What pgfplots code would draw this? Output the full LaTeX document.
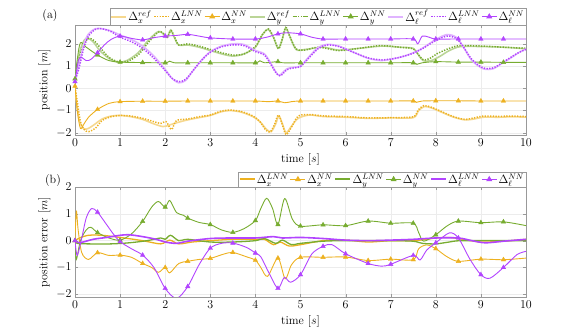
\documentclass[border=0pt]{standalone}
\usepackage{pgfplots}
\pgfplotsset{compat=1.18}
\definecolor{cx}{RGB}{237,177,32}
\definecolor{cy}{RGB}{119,172,48}
\definecolor{cl}{RGB}{178,68,255}
\pgfplotsset{
  myax/.style={scale only axis, width=451pt, height=110pt, xmin=0, xmax=10,
    xtick={0,...,10}, ytick={-2,...,2}, grid=major,
    grid style={gray!15, line width=0.4pt},
    axis line style={gray!80}, major tick style={gray!80}, major tick length=3pt,
    tick label style={font=\fontsize{12}{14}\selectfont}, label style={font=\fontsize{12}{14}\selectfont},
    xlabel={time $[s]$}, xlabel style={yshift=0pt}, ylabel style={yshift=-1pt},
    legend style={draw=gray!80, font=\fontsize{11.5}{13}\selectfont, legend columns=-1, at={(1,1)}, anchor=south east,
      /tikz/every even column/.append style={column sep=0.5pt}, inner sep=0.5pt,
      nodes={inner sep=1.3pt}},
    legend image code/.code={\draw[mark repeat=2,mark phase=2,#1] plot coordinates {(0pt,0pt) (7.5pt,0pt) (15pt,0pt)};},
    legend cell align=left},
  refst/.style={line width=1.6pt, smooth, tension=0.5},
  lnnst/.style={line width=1.5pt, dash pattern=on 1.3pt off 1.4pt, smooth, tension=0.5},
  nnst/.style={line width=0.9pt, smooth, tension=0.5},
  mkst/.style={only marks, mark=triangle*, mark size=2.6pt},
  errst/.style={line width=1.3pt, smooth, tension=0.5},
  solidleg/.style={legend image code/.code={\draw[##1, line width=1.8pt, line cap=butt] (0pt,0pt) -- (15pt,0pt);}},
}
\begin{document}
\begin{tikzpicture}
\path[use as bounding box] (0pt,0pt) rectangle (581pt,332pt);
\node[font=\fontsize{12}{14}\selectfont] at (50pt,316pt) {(a)};
\node[font=\fontsize{12}{14}\selectfont] at (53pt,151pt) {(b)};
\begin{axis}[myax, at={(75pt,197pt)}, ymin=-2.1, ymax=2.85, ylabel={position $[m]$}]
% x
\addplot[refst, color=cx!50, solidleg] coordinates {(0,0) (0.05,-0.9) (0.1,-1.5) (0.2,-1.82) (0.3,-1.8) (0.45,-1.6) (0.6,-1.38) (0.8,-1.25) (1.0,-1.22) (1.25,-1.28) (1.5,-1.4) (1.75,-1.6) (1.95,-1.72) (2.1,-1.65) (2.25,-1.55) (2.5,-1.42) (2.75,-1.32) (3.0,-1.22) (3.25,-1.05) (3.45,-1.0) (3.7,-1.08) (3.95,-1.28) (4.1,-1.5) (4.25,-1.85) (4.35,-1.95) (4.45,-1.6) (4.52,-1.25) (4.6,-1.6) (4.68,-2.0) (4.8,-1.7) (4.95,-1.35) (5.2,-1.2) (5.5,-1.27) (6.0,-1.3) (6.5,-1.35) (7.0,-1.33) (7.5,-1.32) (7.62,-1.0) (7.75,-0.82) (7.9,-0.88) (8.1,-1.05) (8.4,-1.3) (8.65,-1.42) (8.85,-1.38) (9.05,-1.3) (9.4,-1.3) (9.7,-1.28) (10,-1.3)};
\addlegendentry{$\Delta_x^{ref}$}
\addplot[lnnst, color=cx] coordinates {(0,0.05) (0.05,-0.6) (0.12,-1.5) (0.2,-1.85) (0.3,-1.95) (0.45,-1.8) (0.6,-1.45) (0.8,-1.28) (1.0,-1.22) (1.25,-1.25) (1.5,-1.35) (1.75,-1.5) (1.9,-1.58) (2.02,-1.5) (2.14,-1.85) (2.25,-1.45) (2.5,-1.38) (2.75,-1.28) (3.0,-1.2) (3.25,-1.02) (3.45,-0.98) (3.7,-1.05) (3.95,-1.25) (4.1,-1.5) (4.22,-1.85) (4.32,-1.97) (4.42,-1.65) (4.51,-1.2) (4.6,-1.65) (4.68,-2.08) (4.8,-1.75) (4.95,-1.25) (5.2,-1.18) (5.5,-1.24) (6.0,-1.27) (6.5,-1.33) (7.0,-1.32) (7.5,-1.28) (7.6,-1.0) (7.73,-0.78) (7.9,-0.85) (8.1,-1.02) (8.4,-1.28) (8.65,-1.4) (8.85,-1.33) (9.05,-1.25) (9.4,-1.26) (9.7,-1.25) (10,-1.27)};
\addlegendentry{$\Delta_x^{LNN}$}
\addlegendimage{color=cx, line width=0.9pt, mark=triangle*, mark size=2.6pt}\addlegendentry{$\Delta_x^{NN}$}
\addplot[nnst, cx, forget plot] coordinates {(0,0.1) (0.05,-1.0) (0.12,-1.8) (0.2,-1.6) (0.3,-1.3) (0.5,-0.95) (0.75,-0.68) (1,-0.6) (1.5,-0.58) (2,-0.58) (2.5,-0.57) (3,-0.57) (3.5,-0.57) (4,-0.57) (4.3,-0.6) (4.5,-0.57) (4.65,-0.65) (4.8,-0.6) (5,-0.57) (5.5,-0.57) (6,-0.57) (6.5,-0.57) (7,-0.57) (7.5,-0.57) (7.57,-0.63) (7.7,-0.57) (8,-0.56) (8.5,-0.56) (9,-0.57) (9.5,-0.57) (10,-0.57)};
\addplot[mkst, cx, forget plot] coordinates {(0,0.1) (0.5,-0.95) (1,-0.6) (1.5,-0.58) (2,-0.58) (2.5,-0.57) (3,-0.57) (3.5,-0.57) (4,-0.57) (4.5,-0.57) (5,-0.57) (5.5,-0.57) (6,-0.57) (6.5,-0.57) (7,-0.57) (7.5,-0.57) (8,-0.56) (8.5,-0.56) (9,-0.57) (9.5,-0.57)};
% y
\addplot[refst, color=cy!50, solidleg] coordinates {(0,0.4) (0.1,1.6) (0.2,2.15) (0.28,2.25) (0.4,2.1) (0.55,1.7) (0.75,1.35) (0.95,1.18) (1.15,1.25) (1.4,1.6) (1.6,2.1) (1.8,2.5) (1.9,2.55) (2.0,2.35) (2.05,2.3) (2.12,2.62) (2.2,2.3) (2.3,1.95) (2.5,1.95) (2.75,1.85) (3.0,1.7) (3.25,1.55) (3.5,1.45) (3.75,1.55) (4.0,1.85) (4.15,2.4) (4.28,2.65) (4.4,2.3) (4.5,1.8) (4.58,2.1) (4.67,2.7) (4.75,2.4) (4.9,1.75) (5.1,1.75) (5.5,1.85) (5.85,1.72) (6.3,1.8) (6.8,1.9) (7.2,1.85) (7.5,1.8) (7.6,1.55) (7.72,1.25) (7.9,1.25) (8.1,1.45) (8.3,1.7) (8.55,1.88) (9.0,1.88) (9.5,1.85) (10,1.78)};
\addlegendentry{$\Delta_y^{ref}$}
\addplot[lnnst, color=cy] coordinates {(0,0.4) (0.1,1.4) (0.2,2.0) (0.3,2.25) (0.42,2.15) (0.55,1.85) (0.75,1.4) (0.95,1.2) (1.15,1.2) (1.4,1.5) (1.6,2.0) (1.8,2.45) (1.9,2.55) (2.0,2.4) (2.05,2.3) (2.13,2.6) (2.22,2.25) (2.3,1.95) (2.5,2.0) (2.75,1.9) (3.0,1.75) (3.25,1.6) (3.5,1.5) (3.75,1.55) (4.0,1.88) (4.15,2.4) (4.29,2.67) (4.4,2.3) (4.51,1.78) (4.58,2.1) (4.67,2.74) (4.75,2.4) (4.9,1.78) (5.1,1.72) (5.4,1.85) (5.85,1.7) (6.3,1.8) (6.77,1.92) (7.2,1.85) (7.5,1.78) (7.6,1.55) (7.73,1.28) (7.9,1.38) (8.02,1.55) (8.3,1.8) (8.53,1.92) (9.05,1.9) (9.5,1.85) (10,1.8)};
\addlegendentry{$\Delta_y^{LNN}$}
\addlegendimage{color=cy, line width=0.9pt, mark=triangle*, mark size=2.6pt}\addlegendentry{$\Delta_y^{NN}$}
\addplot[nnst, cy, forget plot] coordinates {(0,0.43) (0.05,1.3) (0.12,2.05) (0.25,1.85) (0.5,1.5) (0.75,1.25) (1,1.18) (1.5,1.16) (2,1.15) (2.1,1.22) (2.2,1.15) (2.5,1.15) (3,1.15) (3.5,1.15) (4,1.15) (4.1,1.24) (4.2,1.15) (4.5,1.2) (4.6,1.15) (5,1.15) (5.5,1.15) (6,1.15) (6.5,1.15) (7,1.15) (7.5,1.15) (7.58,1.08) (7.7,1.15) (8,1.2) (8.5,1.18) (9,1.18) (9.5,1.17) (10,1.17)};
\addplot[mkst, cy, forget plot] coordinates {(0,0.43) (0.5,1.5) (1,1.18) (1.5,1.16) (2,1.15) (2.5,1.15) (3,1.15) (3.5,1.15) (4,1.15) (4.5,1.2) (5,1.15) (5.5,1.15) (6,1.15) (6.5,1.15) (7,1.15) (7.5,1.15) (8,1.2) (8.5,1.18) (9,1.18) (9.5,1.17)};
% l
\addplot[refst, color=cl!40, solidleg] coordinates {(0,0.3) (0.1,1.2) (0.2,2.0) (0.3,2.45) (0.45,2.68) (0.6,2.68) (0.8,2.58) (1.0,2.4) (1.25,2.2) (1.5,1.9) (1.75,1.45) (2.0,0.85) (2.15,0.45) (2.3,0.25) (2.45,0.35) (2.6,0.75) (2.8,1.25) (3.0,1.65) (3.25,1.9) (3.5,2.0) (3.75,1.97) (4.0,1.7) (4.2,1.55) (4.35,1.1) (4.45,0.75) (4.53,0.58) (4.7,0.88) (4.85,0.95) (5.0,1.0) (5.2,1.45) (5.4,1.85) (5.6,1.98) (5.85,1.9) (6.2,1.6) (6.5,1.35) (6.8,1.25) (7.1,1.35) (7.3,1.45) (7.5,1.6) (7.7,1.8) (8.0,2.2) (8.25,2.42) (8.45,2.3) (8.6,1.9) (8.8,1.25) (9.05,0.88) (9.27,0.88) (9.45,1.1) (9.65,1.35) (9.85,1.62) (10,1.78)};
\addlegendentry{$\Delta_\ell^{ref}$}
\addplot[lnnst, color=cl] coordinates {(0,0.3) (0.1,1.0) (0.2,1.85) (0.3,2.35) (0.45,2.65) (0.6,2.68) (0.8,2.55) (1.0,2.3) (1.25,2.1) (1.5,1.8) (1.75,1.35) (2.0,0.8) (2.15,0.45) (2.3,0.3) (2.45,0.4) (2.6,0.75) (2.8,1.25) (3.0,1.62) (3.25,1.87) (3.5,1.95) (3.75,1.92) (4.0,1.65) (4.2,1.5) (4.35,1.05) (4.45,0.72) (4.55,0.56) (4.7,0.84) (4.85,0.92) (5.0,0.98) (5.2,1.4) (5.4,1.8) (5.6,1.95) (5.85,1.88) (6.2,1.6) (6.5,1.37) (6.8,1.28) (7.1,1.35) (7.3,1.45) (7.5,1.58) (7.7,1.78) (8.0,2.15) (8.25,2.35) (8.45,2.25) (8.6,1.9) (8.8,1.3) (9.05,0.92) (9.27,0.92) (9.45,1.12) (9.65,1.38) (9.85,1.62) (10,1.75)};
\addlegendentry{$\Delta_\ell^{LNN}$}
\addlegendimage{color=cl, line width=0.9pt, mark=triangle*, mark size=2.6pt}\addlegendentry{$\Delta_\ell^{NN}$}
\addplot[nnst, cl, forget plot] coordinates {(0,0.3) (0.07,1.2) (0.13,1.4) (0.25,1.25) (0.35,1.3) (0.5,1.6) (0.65,1.95) (0.8,2.2) (1,2.35) (1.25,2.25) (1.5,2.18) (1.75,2.28) (2,2.35) (2.25,2.38) (2.5,2.43) (2.75,2.35) (3,2.27) (3.5,2.22) (4,2.22) (4.25,2.3) (4.5,2.45) (4.7,2.5) (5,2.45) (5.25,2.3) (5.5,2.22) (6,2.22) (6.5,2.22) (7,2.22) (7.5,2.22) (7.6,2.0) (7.7,2.35) (7.85,2.3) (8,2.22) (8.5,2.22) (9,2.22) (9.5,2.22) (10,2.22)};
\addplot[mkst, cl, forget plot] coordinates {(0,0.3) (0.5,1.6) (1,2.35) (1.5,2.18) (2,2.35) (2.5,2.43) (3,2.27) (3.5,2.22) (4,2.22) (4.5,2.45) (5,2.45) (5.5,2.22) (6,2.22) (6.5,2.22) (7,2.22) (7.5,2.22) (8,2.22) (8.5,2.22) (9,2.22) (9.5,2.22)};
\end{axis}
\begin{axis}[myax, at={(75pt,35pt)}, ymin=-2.1, ymax=2, ylabel={position error $[m]$}]
\addplot[errst, color=cx, solidleg] coordinates {(0,0) (0.1,0.1) (0.3,0.2) (0.6,0.2) (1.0,0.12) (1.5,0.0) (1.9,-0.12) (2.1,0.02) (2.3,-0.12) (2.6,-0.05) (3.0,0.0) (3.5,0.05) (4.0,0.05) (4.2,0.05) (4.4,-0.15) (4.55,-0.05) (4.75,-0.2) (5.0,-0.15) (5.5,0.0) (6,0.02) (6.5,-0.05) (7,0.0) (7.5,0.0) (7.8,0.05) (8.0,0.1) (8.3,0.12) (8.6,0.05) (9.0,-0.05) (9.5,-0.02) (10,0.05)};
\addlegendentry{$\Delta_x^{LNN}$}
\addlegendimage{color=cx, line width=0.9pt, mark=triangle*, mark size=2.6pt}\addlegendentry{$\Delta_x^{NN}$}
\addplot[nnst, cx, forget plot] coordinates {(0,0) (0.03,1.1) (0.07,0.4) (0.15,-0.45) (0.3,-0.7) (0.5,-0.45) (0.75,-0.55) (1.0,-0.54) (1.25,-0.62) (1.5,-0.85) (1.7,-1.0) (1.85,-1.18) (2.0,-1.0) (2.1,-1.2) (2.3,-0.85) (2.5,-0.77) (2.75,-0.7) (3.0,-0.66) (3.3,-0.5) (3.5,-0.44) (3.8,-0.6) (4.0,-0.73) (4.12,-1.0) (4.27,-1.33) (4.5,-0.65) (4.66,-1.42) (4.8,-0.9) (5.0,-0.62) (5.5,-0.62) (6.0,-0.61) (6.5,-0.74) (7.0,-0.69) (7.5,-0.71) (7.62,-0.3) (7.8,-0.16) (8.0,-0.3) (8.25,-0.6) (8.5,-0.77) (9.0,-0.69) (9.5,-0.71) (10,-0.65)};
\addplot[mkst, cx, forget plot] coordinates {(0,0) (0.5,-0.45) (1,-0.54) (1.5,-0.85) (2,-1.0) (2.5,-0.77) (3,-0.66) (3.5,-0.44) (4,-0.73) (4.5,-0.65) (5,-0.62) (5.5,-0.62) (6,-0.61) (6.5,-0.74) (7,-0.69) (7.5,-0.71) (8,-0.3) (8.5,-0.77) (9,-0.69) (9.5,-0.71)};
\addplot[errst, color=cy, solidleg] coordinates {(0,0) (0.05,-0.1) (0.3,-0.12) (0.8,-0.12) (1.2,-0.08) (1.6,0.0) (1.9,0.1) (2.0,0.05) (2.12,0.2) (2.3,0.0) (2.5,0.05) (3.0,-0.05) (3.5,-0.05) (4.0,0.0) (4.2,0.08) (4.45,-0.1) (4.6,0.02) (4.8,-0.15) (5.0,-0.1) (5.5,-0.02) (6,0.0) (7,0.0) (7.5,-0.02) (7.7,-0.1) (8.0,-0.12) (8.3,-0.05) (8.6,0.0) (10,0.0)};
\addlegendentry{$\Delta_y^{LNN}$}
\addlegendimage{color=cy, line width=0.9pt, mark=triangle*, mark size=2.6pt}\addlegendentry{$\Delta_y^{NN}$}
\addplot[nnst, cy, forget plot] coordinates {(0,0) (0.03,-0.7) (0.12,0.0) (0.25,0.4) (0.35,0.5) (0.5,0.3) (0.75,0.1) (1.0,0.02) (1.25,0.25) (1.5,0.72) (1.7,1.25) (1.85,1.46) (2.0,1.25) (2.1,1.5) (2.25,1.05) (2.4,0.95) (2.5,0.84) (2.75,0.68) (3.0,0.6) (3.25,0.4) (3.5,0.31) (3.75,0.45) (4.0,0.75) (4.12,1.2) (4.25,1.58) (4.38,1.2) (4.5,0.6) (4.65,1.57) (4.82,0.8) (5.0,0.54) (5.5,0.59) (6.0,0.56) (6.5,0.73) (7.0,0.65) (7.5,0.65) (7.62,0.3) (7.73,-0.02) (8.0,0.22) (8.25,0.55) (8.5,0.73) (9.0,0.67) (9.5,0.7) (10,0.56)};
\addplot[mkst, cy, forget plot] coordinates {(0,0) (0.5,0.3) (1,0.02) (1.5,0.72) (2,1.25) (2.5,0.84) (3,0.6) (3.5,0.31) (4,0.75) (4.5,0.6) (5,0.54) (5.5,0.59) (6,0.56) (6.5,0.73) (7,0.65) (7.5,0.65) (8,0.22) (8.5,0.73) (9,0.67) (9.5,0.7)};
\addplot[errst, color=cl, line width=1.6pt, solidleg] coordinates {(0,0) (0.1,-0.08) (0.4,0.05) (0.7,0.12) (1.0,0.2) (1.2,0.22) (1.5,0.15) (1.8,0.05) (2.0,-0.05) (2.25,-0.1) (2.5,-0.02) (3.0,0.08) (3.5,0.1) (4.0,0.1) (4.4,0.15) (4.6,0.1) (5.0,0.12) (5.5,0.08) (6.0,0.02) (6.5,0.0) (7.0,0.02) (7.5,0.05) (8.0,0.1) (8.5,0.1) (8.8,0.0) (9.1,-0.08) (9.5,-0.02) (10,0.05)};
\addlegendentry{$\Delta_\ell^{LNN}$}
\addlegendimage{color=cl, line width=0.9pt, mark=triangle*, mark size=2.6pt}\addlegendentry{$\Delta_\ell^{NN}$}
\addplot[nnst, cl, forget plot] coordinates {(0,0) (0.05,-0.55) (0.15,0.1) (0.25,0.85) (0.37,1.2) (0.5,1.06) (0.7,0.6) (0.85,0.25) (1.0,-0.04) (1.25,-0.3) (1.5,-0.54) (1.75,-1.0) (2.0,-1.78) (2.25,-2.15) (2.5,-1.71) (2.75,-0.9) (3.0,-0.28) (3.25,-0.1) (3.5,-0.09) (3.8,-0.25) (4.0,-0.46) (4.12,-0.6) (4.3,-1.2) (4.5,-1.78) (4.64,-1.37) (4.78,-1.55) (5.0,-1.27) (5.25,-0.5) (5.5,-0.21) (5.7,-0.15) (6.0,-0.49) (6.5,-0.85) (6.8,-0.95) (7.0,-0.88) (7.5,-0.55) (7.65,-0.72) (7.8,-0.35) (8.0,-0.08) (8.3,0.29) (8.5,0.1) (8.76,-0.7) (9.0,-1.27) (9.2,-1.4) (9.5,-1.0) (9.8,-0.52) (10,-0.4)};
\addplot[mkst, cl, forget plot] coordinates {(0,0) (0.5,1.06) (1,-0.04) (1.5,-0.54) (2,-1.78) (2.5,-1.71) (3,-0.28) (3.5,-0.09) (4,-0.46) (4.5,-1.78) (5,-1.27) (5.5,-0.21) (6,-0.49) (6.5,-0.85) (7,-0.88) (7.5,-0.55) (8,-0.08) (8.5,0.1) (9,-1.27) (9.5,-1.0)};
\end{axis}
\end{tikzpicture}
\end{document}
